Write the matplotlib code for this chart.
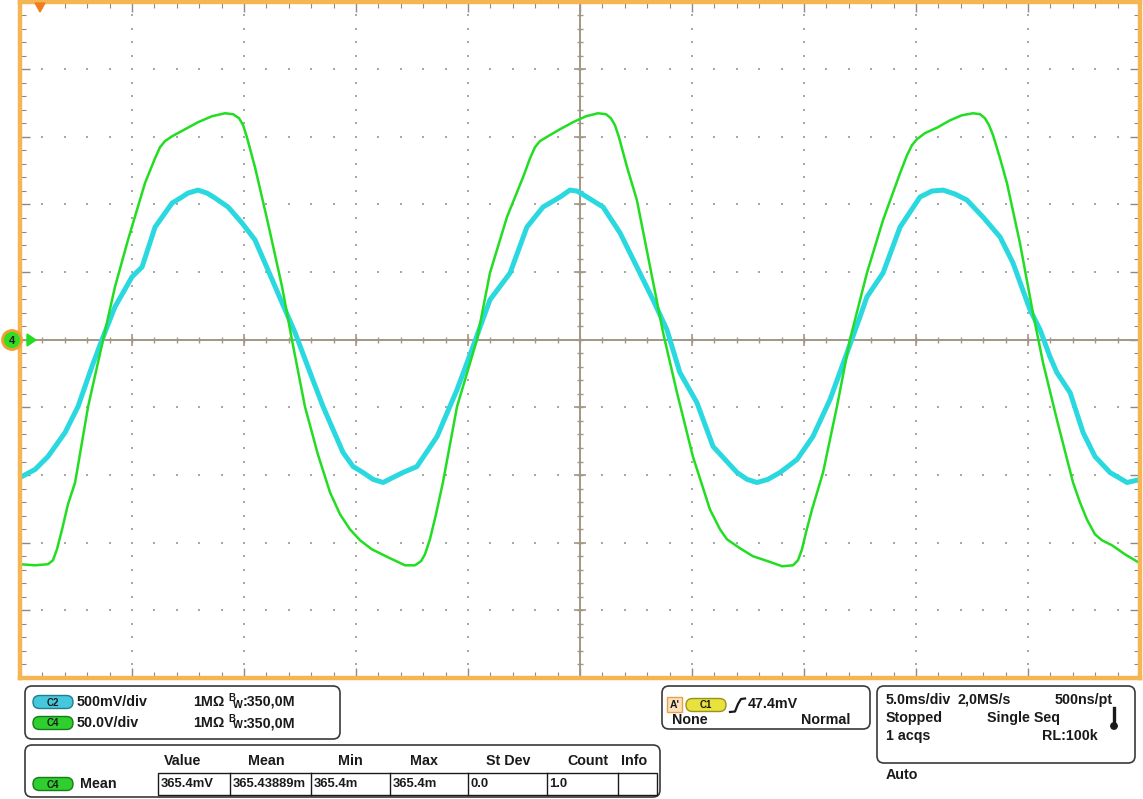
import numpy as np
import matplotlib.pyplot as plt
from matplotlib.patches import FancyBboxPatch, Rectangle, Circle, Polygon

plt.rcParams['font.family'] = ['Liberation Sans', 'DejaVu Sans']

# Channel 4 (green) - time in ms, value in V (50 V/div)
t_c4_ms = [0.00, 0.67, 1.25, 1.47, 1.65, 1.88, 2.14, 2.46, 3.04, 3.71, 4.24, 4.82,
           5.58, 6.03, 6.25, 6.47, 6.79, 7.37, 7.95, 8.57, 9.15, 9.51, 9.78, 9.96,
           10.13, 10.31, 10.49, 11.07, 11.70, 12.14, 12.72, 13.30, 13.84, 14.29, 14.73,
           15.18, 15.71, 16.52, 17.19, 17.63, 17.90, 18.08, 18.30, 18.57, 18.88, 19.51,
           20.40, 20.98, 21.74, 22.46, 22.77, 22.99, 23.21, 23.57, 24.11, 24.69, 25.27,
           25.80, 26.16, 26.38, 26.56, 26.74, 26.92, 27.10, 27.54, 28.13, 28.71, 29.33,
           30.04, 30.80, 31.25, 31.56, 32.14, 32.72, 33.39, 34.02, 34.51, 34.73, 34.91,
           35.09, 35.36, 35.85, 36.47, 37.05, 37.81, 38.53, 39.29, 39.60, 39.82, 40.04,
           40.40, 40.98, 41.52, 42.05, 42.54, 42.86, 43.08, 43.26, 43.44, 43.75, 44.06,
           44.64, 45.22, 45.67, 46.29, 47.01, 47.32, 47.63, 47.99, 48.30, 48.75, 49.33,
           50.00]
c4_volts = [-165.9, -166.7, -165.9, -163.0, -154.9, -140.1, -121.7, -105.5, -49.4, 0.0,
            39.1, 73.7, 115.8, 134.2, 142.3, 146.8, 150.4, 155.6, 160.8, 165.2, 167.4,
            166.7, 163.7, 158.6, 149.7, 138.6, 127.6, 86.3, 39.1, 0.0, -49.4, -84.8,
            -112.8, -129.1, -140.1, -148.2, -154.9, -161.5, -166.7, -166.7, -163.7,
            -158.6, -147.5, -129.1, -105.5, -49.4, 0.0, 49.4, 90.7, 120.2, 134.2, 142.3,
            146.8, 150.4, 155.6, 160.8, 165.2, 167.4, 166.7, 163.7, 158.6, 149.7, 138.6,
            127.6, 103.2, 53.8, 5.2, -39.1, -86.3, -125.4, -140.1, -147.5, -154.1,
            -160.0, -163.7, -167.4, -166.7, -163.0, -154.9, -142.3, -125.4, -98.1,
            -49.4, 0.0, 49.4, 88.5, 123.2, 136.4, 143.8, 148.2, 152.7, 157.1, 162.2,
            165.9, 167.4, 166.7, 163.7, 158.6, 151.2, 134.2, 115.8, 71.5, 19.9, -16.9,
            -59.0, -105.5, -120.2, -132.8, -143.8, -148.2, -151.9, -158.6, -165.2]

# Channel 2 (cyan) - time in ms, value in mV (500 mV/div)
t_c2_ms = [0.00, 0.67, 1.25, 2.01, 2.59, 3.21, 3.66, 4.24, 5.00, 5.45, 6.03, 6.79, 7.23,
           7.50, 7.95, 8.35, 8.71, 9.29, 9.91, 10.49, 11.07, 11.70, 12.28, 12.95, 13.53,
           14.42, 14.87, 15.31, 15.76, 16.21, 16.65, 17.10, 17.72, 18.62, 19.51, 20.22,
           20.98, 21.88, 22.63, 23.35, 24.11, 24.55, 24.87, 25.31, 26.03, 26.79, 27.54,
           28.26, 28.88, 29.46, 30.22, 30.94, 32.01, 32.46, 32.90, 33.39, 33.93, 34.69,
           35.40, 36.16, 36.92, 37.50, 37.81, 38.53, 39.29, 40.18, 40.71, 41.21, 41.74,
           42.27, 42.99, 43.75, 44.33, 45.09, 45.54, 45.98, 46.29, 46.88, 47.46, 47.99,
           48.66, 49.42, 50.00]
c2_mv = [-1018, -959, -863, -686, -494, -199, 0, 243, 465, 538, 833, 1010, 1055,
         1084, 1106, 1084, 1047, 981, 863, 738, 516, 273, 52, -243, -494,
         -833, -937, -981, -1032, -1055, -1018, -981, -937, -715, -369, -52,
         295, 494, 833, 981, 1055, 1106, 1099, 1055, 981, 789, 538,
         295, 74, -243, -465, -789, -981, -1032, -1055, -1032, -981, -885,
         -715, -443, -96, 170, 317, 494, 833, 1055, 1099, 1106, 1077,
         1033, 907, 760, 568, 221, 74, -125, -243, -391, -686, -863,
         -981, -1055, -1033]

c4_per_div = 50.0
c2_per_div = 500.0

W, H = 1143, 799
fig = plt.figure(figsize=(W / 100, H / 100), dpi=100)
fig.patch.set_facecolor('white')

# screen area in pixels
L, R, T, B = 20, 1140, 1.5, 678
ax = fig.add_axes([L / W, 1 - B / H, (R - L) / W, (B - T) / H])
ax.set_xlim(0, 50)
ax.set_ylim(-5, 5)

grid_col = '#a8a8a8'
cross_col = '#a39684'

# dotted graticule
maj_t = np.arange(5, 50, 5)
min_t = np.arange(1, 50, 1)
maj_y = np.arange(-4, 5, 1)
min_y = np.arange(-4.8, 5, 0.2)
for tx in maj_t:
    if tx != 25:
        ax.scatter(np.full(len(min_y), tx), min_y, s=1.6, marker='s', color=grid_col, lw=0)
for yy in maj_y:
    if yy != 0:
        ax.scatter(min_t, np.full(len(min_t), yy), s=1.6, marker='s', color=grid_col, lw=0)

# centre cross with ticks
ax.axhline(0, color=cross_col, lw=1.4)
ax.axvline(25, color=cross_col, lw=1.4)
ax.plot(min_t, np.zeros(len(min_t)), ls='none', marker='|', ms=4.5, mew=1, color=cross_col)
ax.plot(maj_t, np.zeros(len(maj_t)), ls='none', marker='|', ms=9, mew=1.2, color=cross_col)
ax.plot(np.full(len(min_y), 25), min_y, ls='none', marker='_', ms=4.5, mew=1, color=cross_col)
ax.plot(np.full(len(maj_y), 25), maj_y, ls='none', marker='_', ms=9, mew=1.2, color=cross_col)

# border ticks
ax.set_xticks(maj_t)
ax.set_xticks(min_t, minor=True)
ax.set_yticks(maj_y)
ax.set_yticks(min_y, minor=True)
ax.tick_params(which='both', direction='in', top=True, right=True, bottom=True, left=True,
               labelbottom=False, labelleft=False, color='#8a8a8a')
ax.tick_params(which='major', length=7, width=1)
ax.tick_params(which='minor', length=4.5, width=0.8)
for sp in ax.spines.values():
    sp.set_color('#f5b553')
    sp.set_linewidth(3.2)

# waveforms
ax.plot(t_c2_ms, np.array(c2_mv) / c2_per_div, color='#2ad8e0', lw=3.6,
        solid_joinstyle='round', solid_capstyle='round')
ax.plot(t_c4_ms, np.array(c4_volts) / c4_per_div, color='#22dd22', lw=1.8,
        solid_joinstyle='round', solid_capstyle='round')

# overlay in pixel coordinates
ov = fig.add_axes([0, 0, 1, 1], zorder=5)
ov.set_xlim(0, W)
ov.set_ylim(H, 0)
ov.axis('off')
ov.patch.set_alpha(0)

# trigger position marker and channel ground marker
ov.add_patch(Polygon([[35, 3], [45, 3], [40, 12]], closed=True, color='#f07d1e'))
ov.add_patch(Polygon([[27, 334], [27, 346], [36, 340]], closed=True, color='#22dd22'))
ov.add_patch(Circle((12, 340), 9.5, fc='#33dd22', ec='#f0a030', lw=2))
ov.text(12, 341, '4', ha='center', va='center', fontsize=8, fontweight='bold', color='#222')

fs = 10.3
tc = '#1a1a1a'


def panel(x0, y0, x1, y1):
    ov.add_patch(FancyBboxPatch((x0, y0), x1 - x0, y1 - y0,
                                boxstyle='round,pad=0,rounding_size=7',
                                fc='white', ec='#3a3a3a', lw=1.2))


def badge(xc, yc, label, fc, ec):
    w, h = 40, 13
    ov.add_patch(FancyBboxPatch((xc - w / 2, yc - h / 2), w, h,
                                boxstyle='round,pad=0,rounding_size=6.5',
                                fc=fc, ec=ec, lw=1))
    ov.text(xc, yc + 0.5, label, ha='center', va='center', fontsize=7,
            fontweight='bold', color='#1a1a1a')


def txt(x, y, s, ha='left', size=fs):
    ov.text(x, y, s, ha=ha, va='center', fontsize=size, fontweight='bold', color=tc)


# vertical settings panel
panel(25, 686, 340, 739)
badge(53, 702, 'C2', '#46c8dc', '#1f7f8f')
badge(53, 723, 'C4', '#2fcf2f', '#177a17')
txt(77, 702, '500mV/div')
txt(77, 723, '50.0V/div')
for yy in (702, 723):
    txt(225, yy, '1MΩ', ha='right')
    ov.text(228, yy - 4, 'B', ha='left', va='center', fontsize=7, fontweight='bold', color=tc)
    ov.text(233, yy + 2.5, 'W', ha='left', va='center', fontsize=7.5, fontweight='bold', color=tc)
    txt(243, yy, ':350,0M')

# measurement panel
panel(25, 745, 660, 797)
headers = ['Value', 'Mean', 'Min', 'Max', 'St Dev', 'Count', 'Info']
header_x = [183, 266, 350, 424, 508, 588, 634]
values = ['365.4mV', '365.43889m', '365.4m', '365.4m', '0.0', '1.0', '']
cell_x = [158, 230, 311, 390, 468, 547, 618, 657]
for hx, h in zip(header_x, headers):
    txt(hx, 761, h, ha='center')
ov.add_patch(Rectangle((cell_x[0], 773), cell_x[-1] - cell_x[0], 22, fill=False, ec='#1a1a1a', lw=1))
for cx in cell_x[1:-1]:
    ov.plot([cx, cx], [773, 795], color='#1a1a1a', lw=1)
for cx, v in zip(cell_x[:-1], values):
    txt(cx + 2.5, 784, v, size=9.4)
badge(53, 784, 'C4', '#2fcf2f', '#177a17')
txt(80, 784, 'Mean')

# trigger panel
panel(662, 686, 870, 729)
ov.add_patch(Rectangle((667, 697), 15, 15, fc='#fde1bd', ec='#e8a04a', lw=1))
ov.text(674.5, 704.5, "A'", ha='center', va='center', fontsize=7.5, fontweight='bold', color=tc)
badge(706, 705, 'C1', '#e8e23c', '#9a9020')
ov.plot([730, 735, 738, 741, 745], [712, 711.5, 704, 699, 698.5], color=tc, lw=1.6)
txt(748, 704, '47.4mV')
txt(672, 720, 'None')
txt(801, 720, 'Normal')

# acquisition panel
panel(877, 686, 1135, 763)
txt(886, 700, '5.0ms/div')
txt(957, 700, '2,0MS/s')
txt(1055, 700, '500ns/pt')
txt(886, 718, 'Stopped')
txt(987, 718, 'Single Seq')
txt(886, 736, '1 acqs')
txt(1042, 736, 'RL:100k')
ov.plot([1114, 1114], [708, 724], color=tc, lw=2.4)
ov.add_patch(Circle((1114, 726), 3.2, color=tc))
txt(886, 775, 'Auto')

fig.savefig('out.png', dpi=100, facecolor='white')
